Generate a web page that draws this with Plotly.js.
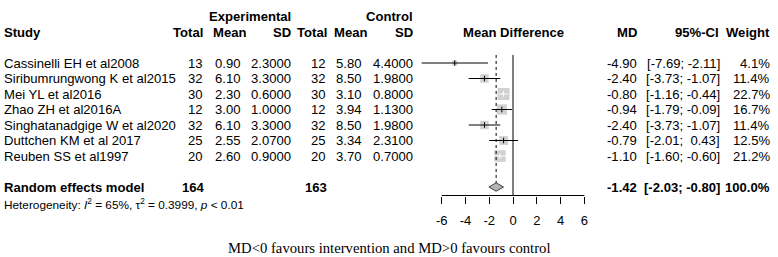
<!DOCTYPE html>
<html><head><meta charset="utf-8">
<script src="https://cdn.plot.ly/plotly-3.0.1.min.js"></script>
<style>html,body{margin:0;padding:0;background:#fff;} #chart{width:778px;height:257px;}</style>
</head><body><div id="chart"></div>
<script>
// ---- data ----
const studies = ["Cassinelli EH et al2008","Siribumrungwong K et al2015","Mei YL et al2016","Zhao ZH et al2016A","Singhatanadgige W et al2020","Duttchen KM et al 2017","Reuben SS et al1997"];
const expTotal = [13,32,30,12,32,25,20];
const expMean = [0.90,6.10,2.30,3.00,6.10,2.55,2.60];
const expSD = [2.3,3.3,0.6,1.0,3.3,2.07,0.9];
const ctrlTotal = [12,32,30,12,32,25,20];
const ctrlMean = [5.80,8.50,3.10,3.94,8.50,3.34,3.70];
const ctrlSD = [4.4,1.98,0.8,1.13,1.98,2.31,0.7];
const md = [-4.90,-2.40,-0.80,-0.94,-2.40,-0.79,-1.10];
const ciLow = [-7.69,-3.73,-1.16,-1.79,-3.73,-2.01,-1.60];
const ciHigh = [-2.11,-1.07,-0.44,-0.09,-1.07,0.43,-0.60];
const weight = [4.1,11.4,22.7,16.7,11.4,12.5,21.2];
const pooledMD = -1.42, pooledLow = -2.03, pooledHigh = -0.80, pooledWeight = 100.0;
const expN = 164, ctrlN = 163;
const hetI2 = 65, hetTau2 = 0.3999, hetP = "&lt; 0.01";
const tickVals = [-6,-4,-2,0,2,4,6];
const tickLabels = ["-6","-4","-2","0","2","4","6"];
const caption = "MD&lt;0 favours intervention and MD&gt;0 favours control";

// ---- layout constants ----
const W = 778, H = 257;
const ROW0 = 63, ROWH = 15.5;
const yTop = -ROW0 / ROWH, yBot = (H - ROW0) / ROWH;
const X0PX = 513, XSCALE = 11.883;
const xRange = [-X0PX / XSCALE, (W - X0PX) / XSCALE];
const AXIS_PX = 195.5;
const axisY = (AXIS_PX - ROW0) / ROWH;
const FONT = '"Liberation Sans", Arial, sans-serif';
const FS = 13.1;
const RE_ROW = studies.length + 1;

const ann = [];
function txt(text, xpx, row, anchor, extra) {
  ann.push(Object.assign({text: text, xref: 'paper', x: xpx / W, yref: 'y', y: row,
    xanchor: anchor, yanchor: 'middle', showarrow: false, borderpad: 0, borderwidth: 0,
    font: {family: FONT, size: FS, color: '#000'}}, extra || {}));
}
const f2 = v => v.toFixed(2);
const f4 = v => v.toFixed(4);
const ci = (a, b) => "[" + f2(a) + ";" + (b < 0 ? " " : "\u00a0 ") + f2(b) + "]";

// headers
txt("<b>Experimental</b>", 291, -3, 'right');
txt("<b>Control</b>", 413, -3, 'right');
txt("<b>Study</b>", 4, -2, 'left');
txt("<b>Total</b>", 203, -2, 'right');
txt("<b>Mean</b>", 246, -2, 'right');
txt("<b>SD</b>", 291, -2, 'right');
txt("<b>Total</b>", 327, -2, 'right');
txt("<b>Mean</b>", 367, -2, 'right');
txt("<b>SD</b>", 413, -2, 'right');
txt("<b>Mean Difference</b>", X0PX, -2, 'center');
txt("<b>MD</b>", 637, -2, 'right');
txt("<b>95%-CI</b>", 719, -2, 'right');
txt("<b>Weight</b>", 770, -2, 'right');

studies.forEach((s, i) => {
  txt(s, 4, i, 'left');
  txt(String(expTotal[i]), 203, i, 'right');
  txt(f2(expMean[i]), 240, i, 'right');
  txt(f4(expSD[i]), 291, i, 'right');
  txt(String(ctrlTotal[i]), 326, i, 'right');
  txt(f2(ctrlMean[i]), 361, i, 'right');
  txt(f4(ctrlSD[i]), 413, i, 'right');
  txt(f2(md[i]), 637, i, 'right');
  txt(ci(ciLow[i], ciHigh[i]), 720, i, 'right');
  txt(weight[i].toFixed(1) + "%", 770, i, 'right');
});
txt("<b>Random effects model</b>", 4, RE_ROW, 'left');
txt("<b>" + expN + "</b>", 205, RE_ROW, 'right');
txt("<b>" + ctrlN + "</b>", 327, RE_ROW, 'right');
txt("<b>" + f2(pooledMD) + "</b>", 637, RE_ROW, 'right');
txt("<b>" + ci(pooledLow, pooledHigh) + "</b>", 720, RE_ROW, 'right');
txt("<b>" + pooledWeight.toFixed(1) + "%</b>", 770, RE_ROW, 'right');
txt("Heterogeneity: <i>I</i><sup>2</sup> = " + hetI2 + "%, \u03c4<sup>2</sup> = " + hetTau2.toFixed(4) + ", <i>p</i> " + hetP,
    4, RE_ROW + 1.1, 'left', {font: {family: FONT, size: 11.8, color: '#000'}});
txt(caption, W / 2, (247.5 - ROW0) / ROWH, 'center',
    {font: {family: '"Liberation Serif", "Times New Roman", serif', size: 14.7, color: '#000'}});

// ---- marks ----
const rows = studies.map((s, i) => i);
const sizes = weight.map(w => Math.sqrt(w) * 2.52);
const inside = ciLow.map((l, i) => (ciHigh[i] - l) * XSCALE < sizes[i] + 0.5);
const bx = [], by = [], wx = [], wy = [];
rows.forEach(i => {
  const X = inside[i] ? wx : bx, Y = inside[i] ? wy : by;
  X.push(ciLow[i], ciHigh[i], null); Y.push(i, i, null);
});
const tickCol = inside.map(v => v ? '#ffffff' : '#000000');
const h = 4.2 / ROWH;

const traces = [
  {type: 'scatter', mode: 'markers', x: md, y: rows,
   marker: {symbol: 'square', size: sizes, color: '#BEBEBE', line: {width: 0}}},
  {type: 'scatter', mode: 'lines', x: bx, y: by, line: {color: '#000', width: 1}},
  {type: 'scatter', mode: 'lines', x: wx, y: wy, line: {color: '#fff', width: 1}},
  {type: 'scatter', mode: 'markers', x: md, y: rows,
   marker: {symbol: 'line-ns', size: 4, color: tickCol, line: {color: tickCol, width: 1}}},
  {type: 'scatter', mode: 'lines', fill: 'toself',
   x: [pooledLow, pooledMD, pooledHigh, pooledMD, pooledLow],
   y: [RE_ROW, RE_ROW - h, RE_ROW, RE_ROW + h, RE_ROW],
   fillcolor: '#B4B4B4', line: {color: '#404040', width: 1}}
];

const shapes = [
  {type: 'line', xref: 'x', yref: 'y', x0: tickVals[0], x1: tickVals[tickVals.length - 1], y0: axisY, y1: axisY, line: {color: '#000', width: 1}},
  {type: 'line', xref: 'x', yref: 'y', x0: 0, x1: 0, y0: -0.52, y1: axisY, line: {color: '#000', width: 1}},
  {type: 'line', xref: 'x', yref: 'y', x0: pooledMD, x1: pooledMD, y0: -0.52, y1: RE_ROW - h, line: {color: '#000', width: 1, dash: 'dot'}}
];

const layout = {
  width: W, height: H, margin: {l: 0, r: 0, t: 0, b: 0, pad: 0},
  paper_bgcolor: '#fff', plot_bgcolor: '#fff', showlegend: false, hovermode: false,
  xaxis: {range: xRange, domain: [0, 1], anchor: 'free', position: 1 - AXIS_PX / H,
    showgrid: false, zeroline: false, showline: false, ticks: 'outside', ticklen: 7, tickwidth: 1, tickcolor: '#000',
    tickmode: 'array', tickvals: tickVals, ticktext: tickLabels, automargin: false, ticklabelstandoff: 6,
    tickfont: {family: FONT, size: 13, color: '#000'}},
  yaxis: {range: [yBot, yTop], domain: [0, 1], visible: false, showgrid: false, zeroline: false},
  annotations: ann, shapes: shapes
};
Plotly.newPlot('chart', traces, layout, {staticPlot: true, displayModeBar: false});
</script></body></html>
